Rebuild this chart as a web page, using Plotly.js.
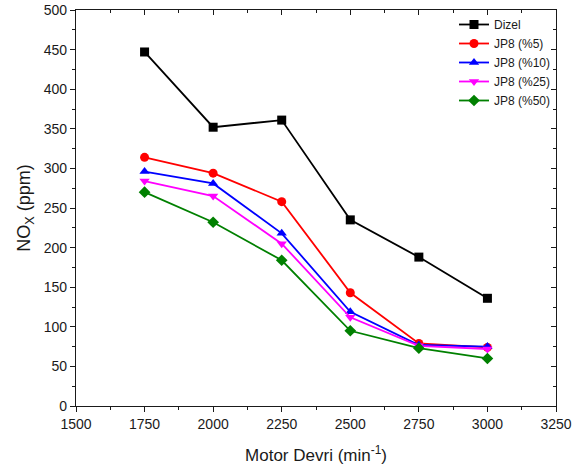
<!DOCTYPE html>
<html><head><meta charset="utf-8">
<script src="https://cdn.plot.ly/plotly-3.0.1.min.js"></script>
<style>html,body{margin:0;padding:0;background:#fff}#c{width:577px;height:472px}</style>
</head><body><div id="c"></div>
<script>
const rpm = [1750, 2000, 2250, 2500, 2750, 3000];
const dizel = [447, 352, 361, 235, 188, 136];
const jp8_5 = [314, 294, 258, 143, 79, 74];
const jp8_10 = [296, 281, 218, 119, 77, 75];
const jp8_25 = [284, 265, 205, 112, 76, 72];
const jp8_50 = [270, 232, 184, 95, 73, 60];
const names = ['Dizel', 'JP8 (%5)', 'JP8 (%10)', 'JP8 (%25)', 'JP8 (%50)'];
const colors = ['#000000', '#ff0000', '#0000ff', '#ff00ff', '#008000'];
const symbols = ['square', 'circle', 'triangle-up', 'triangle-down', 'diamond'];
const series = [dizel, jp8_5, jp8_10, jp8_25, jp8_50];

const traces = series.map((s, i) => ({
  x: rpm, y: s, name: names[i], type: 'scatter', mode: 'lines+markers',
  line: {color: colors[i], width: 1.8},
  marker: {color: colors[i], symbol: symbols[i], size: 9}
}));
// invisible helper traces so the top/right frame axes (inward ticks) get drawn
traces.push({x: rpm, y: dizel, xaxis: 'x2', yaxis: 'y', mode: 'lines', opacity: 0,
             line: {width: 0}, showlegend: false, hoverinfo: 'skip', type: 'scatter'});
traces.push({x: rpm, y: dizel, xaxis: 'x', yaxis: 'y2', mode: 'lines', opacity: 0,
             line: {width: 0}, showlegend: false, hoverinfo: 'skip', type: 'scatter'});

const ff = 'Liberation Sans, Arial, sans-serif';
const tc = '#1a1a1a';
const layout = {
  width: 577, height: 472,
  margin: {l: 76, r: 21, t: 10, b: 66},
  paper_bgcolor: '#fff', plot_bgcolor: '#fff',
  font: {size: 13, family: ff, color: tc},
  showlegend: true,
  legend: {x: 1.0, y: 1.0, xanchor: 'right', yanchor: 'top', bgcolor: 'rgba(0,0,0,0)',
           font: {size: 12, family: ff, color: tc}, tracegroupgap: 0, itemwidth: 30},
  xaxis: {range: [1500, 3250], tickvals: [1500,1750,2000,2250,2500,2750,3000,3250],
          ticks: 'outside', ticklen: 5, tickwidth: 1, tickcolor: tc,
          minor: {dtick: 125, ticks: 'outside', ticklen: 3, tickcolor: tc},
          showgrid: false, zeroline: false, showline: true, linecolor: tc, linewidth: 1.2,
          tickfont: {size: 14, family: ff, color: tc},
          title: {text: 'Motor Devri (min<sup>-1</sup>)', font: {size: 17, family: ff, color: tc}, standoff: 18}},
  yaxis: {range: [0, 500], dtick: 50, ticks: 'outside', ticklen: 5, tickwidth: 1, tickcolor: tc,
          minor: {dtick: 25, ticks: 'outside', ticklen: 3, tickcolor: tc},
          showgrid: false, zeroline: false, showline: true, linecolor: tc, linewidth: 1.2,
          tickfont: {size: 14, family: ff, color: tc},
          title: {text: 'NO<sub>X</sub> (ppm)', font: {size: 18, family: ff, color: tc}, standoff: 8}},
  xaxis2: {overlaying: 'x', side: 'top', anchor: 'y', range: [1500, 3250], dtick: 250, tick0: 1500,
           ticks: 'inside', ticklen: 5, tickcolor: tc, showticklabels: false,
           minor: {dtick: 125, ticks: 'inside', ticklen: 3, tickcolor: tc},
           showgrid: false, zeroline: false, showline: true, linecolor: tc, linewidth: 1.2},
  yaxis2: {overlaying: 'y', side: 'right', anchor: 'x', range: [0, 500], dtick: 50,
           ticks: 'inside', ticklen: 5, tickcolor: tc, showticklabels: false,
           minor: {dtick: 25, ticks: 'inside', ticklen: 3, tickcolor: tc},
           showgrid: false, zeroline: false, showline: true, linecolor: tc, linewidth: 1.2}
};
Plotly.newPlot('c', traces, layout, {displayModeBar: false, staticPlot: true});
</script></body></html>
